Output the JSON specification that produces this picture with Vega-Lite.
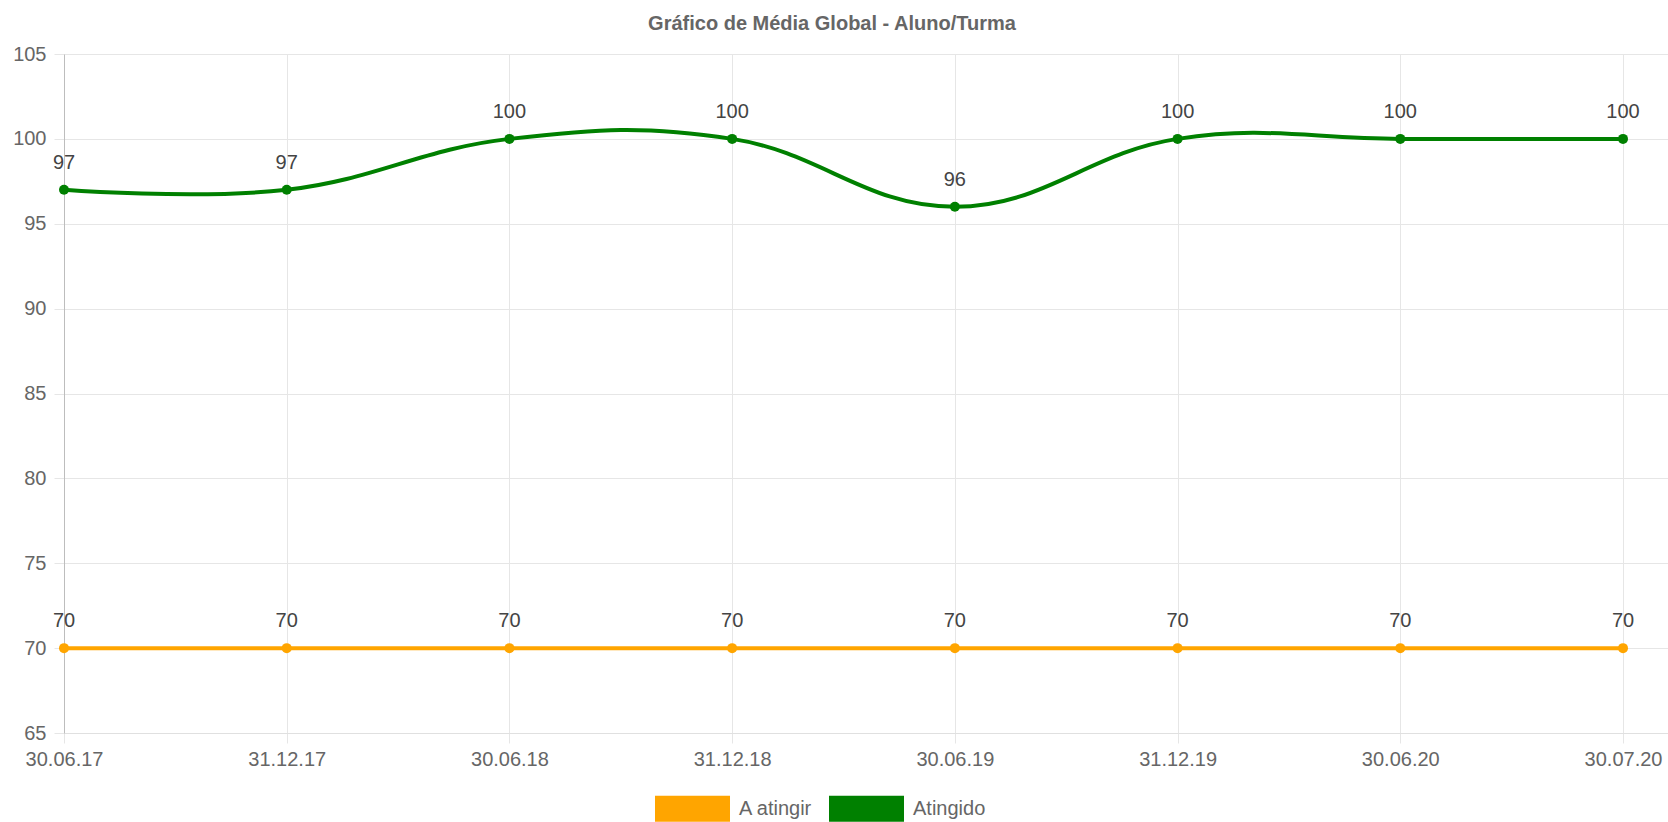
{
  "$schema": "https://vega.github.io/schema/vega-lite/v6.json",
  "width": 1604,
  "height": 679,
  "autosize": {"type": "none"},
  "padding": {"left": 64, "top": 54, "right": 0, "bottom": 89},
  "config": {"view": {"stroke": null}, "font": "Liberation Sans"},
  "title": {"text": "Gráfico de Média Global - Aluno/Turma", "fontSize": 20, "fontWeight": "bold", "color": "#666", "font": "Liberation Sans", "anchor": "middle", "dx": -34, "offset": 10},
  "data": {"values": [
    {"date": "30.06.17", "series": "A atingir", "value": 70},
    {"date": "31.12.17", "series": "A atingir", "value": 70},
    {"date": "30.06.18", "series": "A atingir", "value": 70},
    {"date": "31.12.18", "series": "A atingir", "value": 70},
    {"date": "30.06.19", "series": "A atingir", "value": 70},
    {"date": "31.12.19", "series": "A atingir", "value": 70},
    {"date": "30.06.20", "series": "A atingir", "value": 70},
    {"date": "30.07.20", "series": "A atingir", "value": 70},
    {"date": "30.06.17", "series": "Atingido", "value": 97},
    {"date": "31.12.17", "series": "Atingido", "value": 97},
    {"date": "30.06.18", "series": "Atingido", "value": 100},
    {"date": "31.12.18", "series": "Atingido", "value": 100},
    {"date": "30.06.19", "series": "Atingido", "value": 96},
    {"date": "31.12.19", "series": "Atingido", "value": 100},
    {"date": "30.06.20", "series": "Atingido", "value": 100},
    {"date": "30.07.20", "series": "Atingido", "value": 100}
  ]},
  "encoding": {
    "x": {"field": "date", "type": "ordinal", "sort": null,
      "scale": {"type": "point", "padding": 0.101, "align": 0},
      "axis": {"title": null, "labelAngle": 0, "grid": true, "gridColor": "#e6e6e6", "tickColor": "#e6e6e6", "tickSize": 10, "domainColor": "#e0e0e0", "labelFontSize": 20, "labelColor": "#666", "labelFont": "Liberation Sans", "labelPadding": 6}},
    "y": {"field": "value", "type": "quantitative",
      "scale": {"domain": [65, 105], "nice": false, "zero": false},
      "axis": {"title": null, "values": [65, 70, 75, 80, 85, 90, 95, 100, 105], "grid": true, "gridColor": "#e6e6e6", "tickColor": "#e6e6e6", "tickSize": 10, "domainColor": "#bdbdbd", "labelFontSize": 20, "labelColor": "#666", "labelFont": "Liberation Sans", "labelPadding": 8}},
    "color": {"field": "series", "type": "nominal", "scale": {"domain": ["A atingir", "Atingido"], "range": ["#FFA500", "#008000"]},
      "legend": {"title": null, "orient": "none", "legendX": 591, "legendY": 717, "direction": "horizontal", "symbolType": "M-1,-0.347H1V0.347H-1Z", "symbolSize": 5625, "symbolStrokeWidth": 0, "symbolOpacity": 1, "symbolFillColor": null, "labelFontSize": 20, "labelColor": "#666", "labelFont": "Liberation Sans", "labelOffset": 9, "columnPadding": 16, "padding": 0}}
  },
  "layer": [
    {
      "mark": {"type": "line", "interpolate": "cardinal", "tension": -0.2, "strokeWidth": 4}
    },
    {
      "mark": {"type": "point", "filled": true, "opacity": 1, "size": 100}
    },
    {
      "mark": {"type": "text", "dy": -27, "baseline": "middle", "fontSize": 20, "font": "Liberation Sans"},
      "encoding": {"text": {"field": "value", "type": "quantitative"}, "color": {"value": "#444"}}
    }
  ]
}
